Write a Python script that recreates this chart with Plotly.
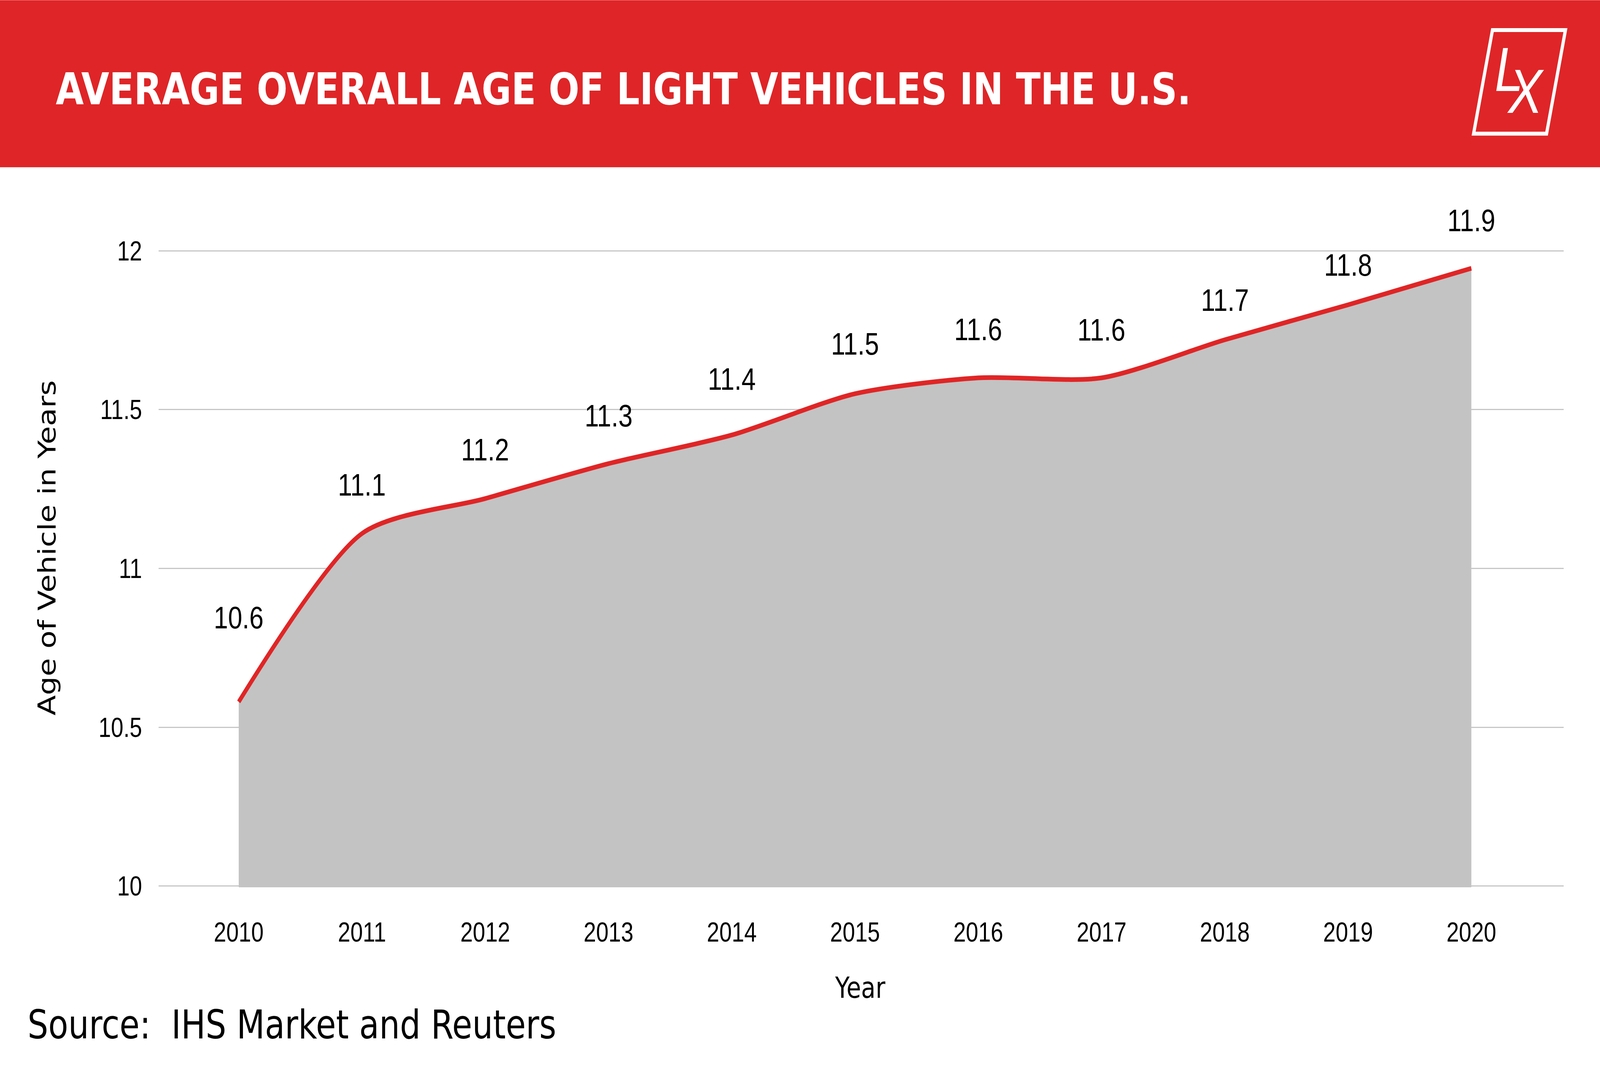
import plotly.graph_objects as go

# ---------------- data ----------------
years = [2010, 2011, 2012, 2013, 2014, 2015, 2016, 2017, 2018, 2019, 2020]
avg_age = [10.58, 11.11, 11.22, 11.33, 11.42, 11.55, 11.60, 11.60, 11.72, 11.83, 11.945]
label_text = ["10.6", "11.1", "11.2", "11.3", "11.4", "11.5", "11.6", "11.6", "11.7", "11.8", "11.9"]
y_tick_vals = [10, 10.5, 11, 11.5, 12]
y_tick_text = ["10", "10.5", "11", "11.5", "12"]
x_tick_text = [str(y) for y in years]
title_text = "AVERAGE OVERALL AGE OF LIGHT VEHICLES IN THE U.S."
source_text = "Source:  IHS Market and Reuters"
x_title = "Year"
y_title = "Age of Vehicle in Years"

# ---------------- layout constants (style) ----------------
W, H = 5000, 2727
Y_LO, Y_HI = 9.996, 12.004
PX_Y10, PX_Y12 = 2269.0, 642.0
UNIT = (PX_Y10 - PX_Y12) / 2.0
ML, MR = 495, 114
MT = PX_Y12 - (Y_HI - 12) * UNIT
MB = H - (PX_Y10 + (10 - Y_LO) * UNIT)
PW = W - ML - MR
PH = H - MT - MB
RED = "#DF2527"
LINE_RED = "#E02526"
GRAY_FILL = "#C3C3C3"
GRID = "#C6C6C6"
FONT = "DejaVu Sans"
NUM_FONT = "Liberation Sans"
label_rise_px = [216, 125, 125, 123, 143, 128, 124, 123, 101, 102, 122]


def px(x):
    return (x - ML) / PW


def py(y):
    return (H - MB - y) / PH


fig = go.Figure()
fig.add_trace(go.Scatter(
    x=years, y=avg_age, mode="lines",
    line=dict(color=LINE_RED, width=12, shape="spline", smoothing=0.75),
    fill="tozeroy", fillcolor=GRAY_FILL,
    hoverinfo="skip", showlegend=False,
))

annotations = []
for xv, yv, t, dy in zip(years, avg_age, label_text, label_rise_px):
    annotations.append(dict(
        x=xv, y=yv, xref="x", yref="y", text=t, showarrow=False,
        yshift=dy, xanchor="center", yanchor="middle",
        font=dict(family=NUM_FONT, size=80, color="#000000"),
    ))

annotations.append(dict(
    x=px(172), y=py(228), xref="paper", yref="paper", text=title_text,
    showarrow=False, xanchor="left", yanchor="middle",
    font=dict(family=FONT, size=113, color="#FFFFFF", weight=700),
))
annotations.append(dict(
    x=px(4715), y=py(177), xref="paper", yref="paper", text="L",
    showarrow=False, xanchor="center", yanchor="middle",
    font=dict(family="Liberation Sans", size=160, color="#FFFFFF", style="italic"),
))
annotations.append(dict(
    x=px(4767), y=py(233), xref="paper", yref="paper", text="X",
    showarrow=False, xanchor="center", yanchor="middle",
    font=dict(family="Liberation Sans", size=160, color="#FFFFFF", style="italic"),
))
annotations.append(dict(
    x=px(146), y=py(1403), xref="paper", yref="paper", text=y_title,
    showarrow=False, textangle=-90, xanchor="center", yanchor="middle",
    font=dict(family=FONT, size=76, color="#000000"),
))
annotations.append(dict(
    x=px(2688), y=py(2529), xref="paper", yref="paper", text=x_title,
    showarrow=False, xanchor="center", yanchor="middle",
    font=dict(family=FONT, size=74, color="#000000"),
))
annotations.append(dict(
    x=px(84), y=py(2624), xref="paper", yref="paper", text=source_text,
    showarrow=False, xanchor="left", yanchor="middle",
    font=dict(family=FONT, size=102, color="#000000"),
))

shapes = [
    dict(type="rect", xref="paper", yref="paper",
         x0=px(0), x1=px(W), y0=py(428), y1=py(0),
         fillcolor=RED, line=dict(width=0), layer="below"),
]
logo_pts = [(4664, 76.5), (4892, 76.5), (4833, 342), (4605, 342)]
path = "M " + " L ".join(f"{px(a):.5f},{py(b):.5f}" for a, b in logo_pts) + " Z"
shapes.append(dict(type="path", xref="paper", yref="paper", path=path,
                   line=dict(color="#FFFFFF", width=10), fillcolor="rgba(0,0,0,0)"))

fig.update_layout(
    width=W, height=H,
    margin=dict(l=ML, r=MR, t=MT, b=MB, pad=0, autoexpand=False),
    paper_bgcolor="#FFFFFF", plot_bgcolor="#FFFFFF",
    showlegend=False,
    annotations=annotations,
    shapes=shapes,
    xaxis=dict(
        range=[2009.3484, 2020.7477], tickmode="array", tickvals=years, ticktext=x_tick_text,
        showgrid=False, zeroline=False, showline=False, ticks="",
        tickfont=dict(family=NUM_FONT, size=70, color="#000000"),
        ticklabelstandoff=68, automargin=False,
    ),
    yaxis=dict(
        range=[Y_LO, Y_HI], tickmode="array", tickvals=y_tick_vals, ticktext=y_tick_text,
        showgrid=True, gridcolor=GRID, gridwidth=3, zeroline=False, showline=False, ticks="",
        tickfont=dict(family=NUM_FONT, size=70, color="#000000"),
        ticklabelstandoff=50, automargin=False,
    ),
)

# The browser viewport may be narrower than the 5000x2727 design (it is clamped);
# stretch the fixed-size design so that it exactly fills the viewport.
fit_js = """
(function(){
  var de = document.documentElement, b = document.body;
  b.style.margin = '0'; b.style.padding = '0';
  de.style.overflow = 'hidden'; b.style.overflow = 'hidden';
  var vw = window.innerWidth || de.clientWidth;
  var vh = window.innerHeight || de.clientHeight;
  var sx = vw / %d, sy = vh / %d;
  if (sx > 0 && sy > 0 && (Math.abs(sx - 1) > 1e-3 || Math.abs(sy - 1) > 1e-3)) {
    var gd = document.querySelector('.plotly-graph-div');
    if (gd) {
      gd.style.transformOrigin = '0 0';
      gd.style.transform = 'scale(' + sx + ',' + sy + ')';
    }
  }
})();
""" % (W, H)

fig.write_html(
    "out.html",
    config={"displayModeBar": False},
    post_script=fit_js,
)
